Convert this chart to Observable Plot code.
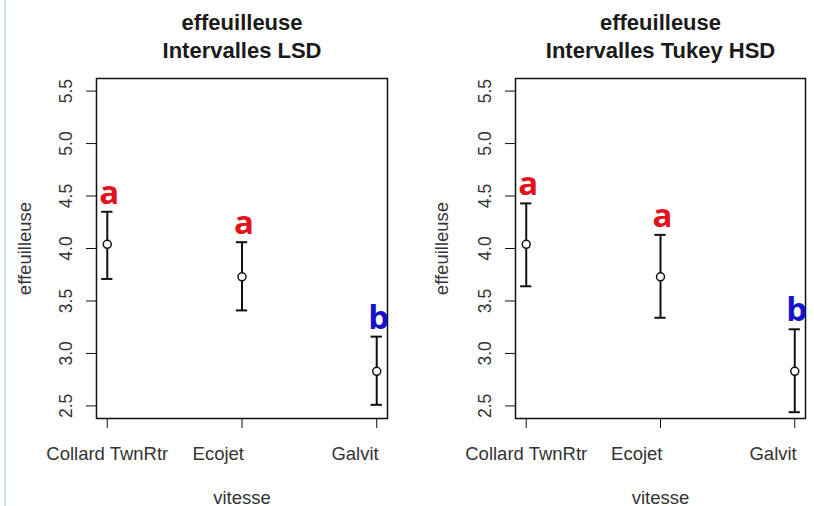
<!DOCTYPE html>
<html>
<head>
<meta charset="utf-8">
<script src="https://cdn.jsdelivr.net/npm/d3@7"></script>
<script src="https://cdn.jsdelivr.net/npm/@observablehq/plot@0.6"></script>
<style>
  html, body { margin: 0; padding: 0; background: #fff; }
  #wrap { position: relative; width: 814px; height: 506px; overflow: hidden; background: #fff; }
  #edge { position: absolute; left: 4px; top: 0; width: 2px; height: 506px; background: #d3e3ec; }
  .panel { position: absolute; top: 0; }
  .panel svg { overflow: visible; }
</style>
</head>
<body>
<div id="wrap">
  <div id="edge"></div>
  <div id="p1" class="panel" style="left:0px"></div>
  <div id="p2" class="panel" style="left:407px"></div>
</div>
<script>
// ---- data ----
const categories = ["Collard TwnRtr", "Ecojet", "Galvit"];
const means = [4.04, 3.73, 2.83];
const lsdLower = [3.71, 3.41, 2.51];
const lsdUpper = [4.35, 4.06, 3.16];
const hsdLower = [3.64, 3.34, 2.44];
const hsdUpper = [4.43, 4.13, 3.23];
const groups = ["a", "a", "b"];
const groupColors = {a: "#e0121e", b: "#1414cc"};
const yTicks = [2.5, 3.0, 3.5, 4.0, 4.5, 5.0, 5.5];
const titles = ["effeuilleuse\nIntervalles LSD", "effeuilleuse\nIntervalles Tukey HSD"];
const yLabel = "effeuilleuse";
const xLabel = "vitesse";

const FONT = "'Liberation Sans', Arial, sans-serif";
const capHalf = 0.042;

function panel(lower, upper, title, marginLeft, marginRight, yLabelDx) {
  const rows = categories.map((c, i) => ({
    i: i + 1, cat: c, mean: means[i], lo: lower[i], hi: upper[i], g: groups[i]
  }));
  const tickLabel = {y: 2.38, text: "cat", lineAnchor: "top", dy: 28, fontSize: 18.5, fill: "#333"};
  return Plot.plot({
    width: 407,
    height: 506,
    marginLeft, marginRight,
    marginTop: 78,
    marginBottom: 88,
    style: {fontFamily: FONT, background: "transparent", overflow: "visible"},
    x: {domain: [0.92, 3.08]},
    y: {domain: [2.38, 5.62]},
    marks: [
      Plot.axisY({
        ticks: yTicks, tickSize: 10, tickPadding: 15, tickRotate: -90,
        tickFormat: d => d.toFixed(1), fontSize: 17.5, color: "#333", stroke: "#111", label: null
      }),
      Plot.axisX({
        ticks: [1, 2, 3], tickSize: 10, tickFormat: () => "", stroke: "#111", label: null
      }),
      // category labels (first centred under its tick, the others ending at their tick as in the reference)
      Plot.text(rows.filter(d => d.i === 1), {x: "i", ...tickLabel, textAnchor: "middle"}),
      Plot.text(rows.filter(d => d.i > 1), {x: "i", ...tickLabel, textAnchor: "end", dx: 2}),
      Plot.frame({stroke: "#111", strokeWidth: 1.5}),
      Plot.ruleX(rows, {x: "i", y1: "lo", y2: "hi", stroke: "#111", strokeWidth: 2}),
      Plot.ruleY(rows, {y: "hi", x1: d => d.i - capHalf, x2: d => d.i + capHalf, stroke: "#111", strokeWidth: 2}),
      Plot.ruleY(rows, {y: "lo", x1: d => d.i - capHalf, x2: d => d.i + capHalf, stroke: "#111", strokeWidth: 2}),
      Plot.dot(rows, {x: "i", y: "mean", r: 4, stroke: "#111", strokeWidth: 1.5, fill: "white"}),
      Plot.text(rows, {
        x: "i", y: "hi", text: "g", fill: d => groupColors[d.g],
        fontSize: 33, fontWeight: "bold", lineAnchor: "bottom", dy: -8, dx: 2,
        fontFamily: "'Open Sans', 'Liberation Sans', sans-serif"
      }),
      Plot.text([title], {
        frameAnchor: "top", text: d => d, lineAnchor: "bottom", textAnchor: "middle", dy: -21,
        lineHeight: 1.25, fontSize: 22, fontWeight: "bold", fill: "#1a1a1a"
      }),
      Plot.text([xLabel], {
        frameAnchor: "bottom", text: d => d, lineAnchor: "bottom", textAnchor: "middle", dy: 85,
        fontSize: 18.5, fill: "#333"
      }),
      Plot.text([yLabel], {
        frameAnchor: "left", text: d => d, rotate: -90, textAnchor: "middle", lineAnchor: "middle", dx: yLabelDx,
        fontSize: 18.5, fill: "#333"
      })
    ]
  });
}

document.getElementById("p1").appendChild(panel(lsdLower, lsdUpper, titles[0], 96, 20, -71));
document.getElementById("p2").appendChild(panel(hsdLower, hsdUpper, titles[1], 108, 9, -73));
</script>
</body>
</html>
